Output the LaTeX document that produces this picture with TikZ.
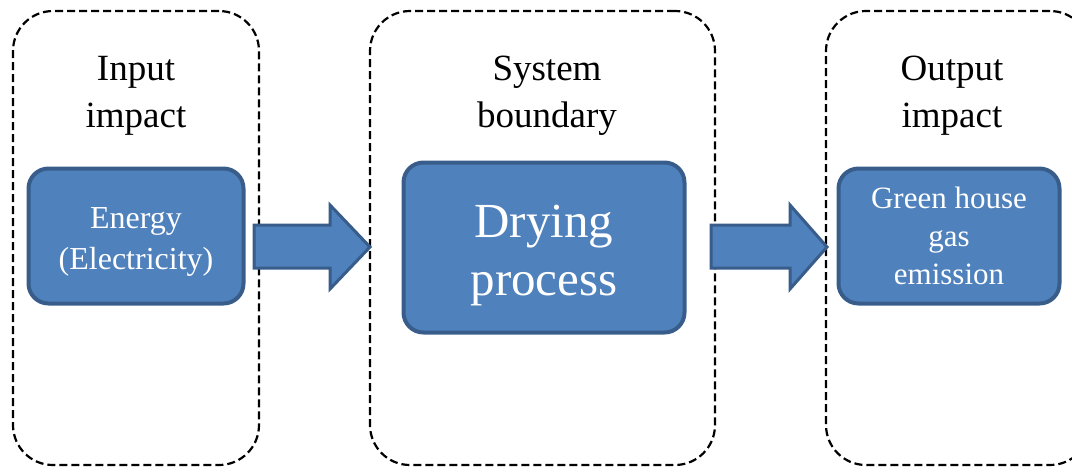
\documentclass[tikz,border=0pt]{standalone}
\usepackage{fontspec}
\setmainfont{Liberation Serif}
\definecolor{boxblue}{HTML}{4F81BD}
\definecolor{boxedge}{HTML}{385D8A}
\begin{document}
\begin{tikzpicture}[x=1pt,y=-1pt,
  zone/.style={draw=black, dashed, dash pattern=on 8pt off 4pt, line width=2.2pt, rounded corners=40pt, minimum width=#1, minimum height=454pt, inner sep=0pt},
  bluebox/.style={draw=boxedge, fill=boxblue, line width=4pt, rounded corners=20pt, inner sep=0pt},
  bluearrow/.style={draw=boxedge, fill=boxblue, line width=3pt, line join=miter},
  head/.style={font=\fontsize{37}{47}\selectfont, align=center, inner sep=0pt},
  wtext/.style={text=white, align=center, inner sep=0pt}]
\useasboundingbox (0,0) rectangle (1072,467);
\begin{scope}
\clip (0,0) rectangle (1072,467);
% dashed zones
\node[zone=246pt] (zin) at (136,238) {};
\node[zone=345pt] (zsys) at (542.5,238) {};
\node[zone=264pt] (zout) at (958,238) {};
\end{scope}
% headings
\node[head] (hin) at (136,96) {Input\\impact};
\node[head] (hsys) at (547,96) {System\\boundary};
\node[head] (hout) at (952,96) {Output\\impact};
% blue boxes
\node[bluebox, minimum width=215pt, minimum height=135pt] (bin) at (136,236) {};
\node[bluebox, minimum width=281pt, minimum height=170pt] (bsys) at (544,247.5) {};
\node[bluebox, minimum width=221pt, minimum height=135pt] (bout) at (949,236) {};
\node[wtext, font=\fontsize{32}{41}\selectfont] (tin) at (136,242) {Energy\\(Electricity)};
\node[wtext, font=\fontsize{49}{58}\selectfont] (tsys) at (544,255) {Drying\\process};
\node[wtext, font=\fontsize{31}{38}\selectfont] (tout) at (949,235.5) {Green house\\gas\\emission};
% block arrows
\draw[bluearrow] (254,225) -- (330,225) -- (330,205) -- (370,247) -- (330,289) -- (330,268) -- (254,268) -- cycle;
\draw[bluearrow] (711,225) -- (790,225) -- (790,205) -- (827,247) -- (790,289) -- (790,268) -- (711,268) -- cycle;
\end{tikzpicture}
\end{document}
